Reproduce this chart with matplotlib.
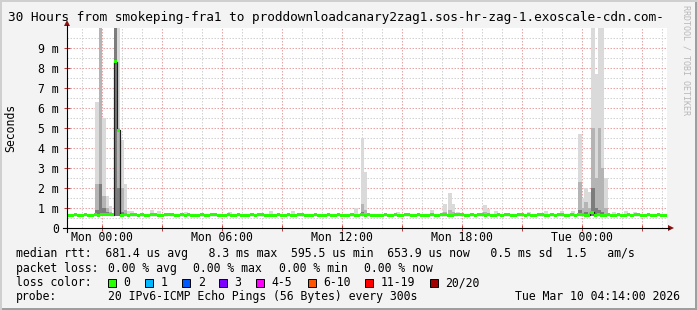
import numpy as np
import matplotlib
matplotlib.use('Agg')
import matplotlib.pyplot as plt
from matplotlib.patches import Rectangle, Polygon
from matplotlib.lines import Line2D

# time axis in hours relative to Mon 00:00, one median sample every 10 minutes
start_hour = -1.77
end_hour = 28.23
step_hours = 1 / 6

median_ms = [
    0.64, 0.63, 0.66, 0.65, 0.63, 0.66, 0.64, 0.65, 0.66, 0.64, 0.68, 0.70, 0.69, 0.66, 8.30, 4.90, 0.64, 0.66,
    0.65, 0.67, 0.66, 0.64, 0.66, 0.65, 0.63, 0.66, 0.67, 0.65, 0.64, 0.66, 0.68, 0.66, 0.64, 0.65, 0.66, 0.64,
    0.66, 0.65, 0.63, 0.65, 0.66, 0.64, 0.65, 0.67, 0.66, 0.64, 0.63, 0.65, 0.66, 0.64, 0.65, 0.66, 0.65, 0.63,
    0.64, 0.66, 0.65, 0.67, 0.66, 0.64, 0.65, 0.63, 0.64, 0.66, 0.65, 0.64, 0.66, 0.65, 0.64, 0.66, 0.67, 0.65,
    0.64, 0.65, 0.66, 0.64, 0.63, 0.65, 0.66, 0.65, 0.64, 0.66, 0.65, 0.63, 0.64, 0.66, 0.65, 0.64, 0.66, 0.65,
    0.66, 0.64, 0.65, 0.63, 0.64, 0.66, 0.65, 0.64, 0.66, 0.65, 0.64, 0.67, 0.66, 0.65, 0.64, 0.66, 0.65, 0.64,
    0.65, 0.66, 0.64, 0.65, 0.67, 0.66, 0.64, 0.65, 0.66, 0.68, 0.66, 0.65, 0.64, 0.66, 0.65, 0.67, 0.66, 0.64,
    0.66, 0.65, 0.64, 0.66, 0.65, 0.67, 0.66, 0.65, 0.64, 0.66, 0.67, 0.65, 0.66, 0.64, 0.65, 0.67, 0.66, 0.65,
    0.64, 0.66, 0.65, 0.67, 0.66, 0.65, 0.64, 0.66, 0.65, 0.68, 0.66, 0.65, 0.64, 0.78, 0.65, 0.66, 0.64, 0.65,
    0.66, 0.65, 0.64, 0.66, 0.65, 0.64, 0.66, 0.65, 0.67, 0.66, 0.64, 0.65, 0.66, 0.65, 0.64, 0.66, 0.65, 0.64,
]

# smoke (spread of the 20 pings) where it rises above the median band
spike_hours = [-0.35, -0.18, 0.00, 0.17, 0.33, 0.57, 0.73, 0.90, 1.05, 1.25, 1.40, 2.40, 2.75, 4.10,
               6.30, 8.35, 9.45, 12.60, 12.93, 13.08, 14.70, 16.40, 17.05, 17.30, 17.45, 17.70, 19.05,
               19.20, 19.60, 21.25, 22.10, 22.90, 23.45, 23.80, 23.97, 24.10, 24.27, 24.45, 24.60, 24.77,
               24.93, 25.10, 25.50, 26.10, 26.55]
spike_max = [6.3, 10.5, 5.5, 1.6, 1.1, 10.5, 10.5, 4.4, 2.2, 0.85, 0.85, 0.9, 0.85, 0.8,
             0.8, 0.85, 0.85, 1.0, 4.5, 2.8, 0.8, 0.9, 1.2, 1.75, 1.2, 0.8, 1.15,
             0.95, 0.85, 0.8, 0.85, 0.85, 0.85, 4.7, 1.5, 2.0, 1.8, 10.5, 7.7, 10.5,
             10.5, 2.5, 0.8, 0.85, 0.8]
spike_mid = [2.2, 10.5, 1.6, 1.0, 0.8, 10.5, 5.0, 2.0, 0.9, 0.7, 0.7, 0.7, 0.7, 0.7,
             0.7, 0.7, 0.7, 0.7, 1.2, 0.9, 0.7, 0.7, 0.8, 0.9, 0.8, 0.7, 0.8,
             0.7, 0.7, 0.7, 0.7, 0.7, 0.7, 2.3, 1.0, 1.3, 1.0, 5.0, 2.5, 5.0,
             3.0, 1.0, 0.7, 0.7, 0.7]
spike_dark = [0.9, 2.2, 1.0, 0.8, 0.7, 10.5, 2.0, 0.8, 0.7, 0.65, 0.65, 0.65, 0.65, 0.65,
              0.65, 0.65, 0.65, 0.65, 0.8, 0.7, 0.65, 0.65, 0.7, 0.7, 0.7, 0.65, 0.7,
              0.65, 0.65, 0.65, 0.65, 0.65, 0.65, 0.9, 0.7, 0.8, 0.7, 2.0, 1.0, 0.9,
              0.8, 0.7, 0.65, 0.65, 0.65]

x_label_hours = [0, 6, 12, 18, 24]
x_labels = ['Mon 00:00', 'Mon 06:00', 'Mon 12:00', 'Mon 18:00', 'Tue 00:00']
y_ticks = [0, 1, 2, 3, 4, 5, 6, 7, 8, 9]
y_labels = ['0', '1 m', '2 m', '3 m', '4 m', '5 m', '6 m', '7 m', '8 m', '9 m']

title = '30 Hours from smokeping-fra1 to proddownloadcanary2zag1.sos-hr-zag-1.exoscale-cdn.com-'
rtt_line = 'median rtt:  681.4 us avg   8.3 ms max  595.5 us min  653.9 us now   0.5 ms sd  1.5   am/s'
loss_values = ['0.00 % avg', '0.00 % max', '0.00 % min', '0.00 % now']
loss_labels = ['0', '1', '2', '3', '4-5', '6-10', '11-19', '20/20']
loss_colors = ['#26ff00', '#00b8ff', '#0059ff', '#7e00ff', '#ff00ff', '#ff5500', '#ff0000', '#a10000']
probe_text = '20 IPv6-ICMP Echo Pings (56 Bytes) every 300s'
stamp_text = 'Tue Mar 10 04:14:00 2026'

W, H = 697, 310
FS = 8.3

plt.rcParams['font.family'] = 'DejaVu Sans Mono'


def fx(x):
    return x / W


def fy(y):
    return 1 - y / H


fig = plt.figure(figsize=(W / 100, H / 100), dpi=100, facecolor='#f3f3f3')
ax = fig.add_axes([fx(67), fy(228), 600 / W, 200 / H])
ax.set_facecolor('white')
ax.set_xlim(start_hour, end_hour)
ax.set_ylim(0, 10)

# grid: grey every hour / 0.5 ms, red every 3 hours / 1 ms
dots = (0, (1.44, 1.44))
for h in np.arange(np.ceil(start_hour), end_hour, 1):
    col = '#e6a6a6' if h % 3 == 0 else '#d2d2d2'
    ax.axvline(h, color=col, lw=0.75, ls=dots, zorder=0)
for v in np.arange(0.5, 10, 0.5):
    col = '#e6a6a6' if v % 1 == 0 else '#d2d2d2'
    ax.axhline(v, color=col, lw=0.75, ls=dots, zorder=0)

# smoke
base = 0.6
ax.bar(spike_hours, np.array(spike_max) - base, bottom=base, width=step_hours,
       align='edge', color='#dadada', lw=0, zorder=1)
ax.bar(spike_hours, np.array(spike_mid) - base, bottom=base, width=step_hours,
       align='edge', color='#b4b4b4', lw=0, zorder=1)
ax.bar(spike_hours, np.array(spike_dark) - base, bottom=base, width=step_hours,
       align='edge', color='#7c7c7c', lw=0, zorder=1)

# median: thin dark step line plus a loss-coloured band
med = np.array(median_ms)
t = start_hour + np.arange(len(med)) * step_hours
ax.step(np.append(t, end_hour), np.append(med, med[-1]), where='post',
        color='#202020', lw=0.9, zorder=2)
ax.bar(t, 0.15, bottom=med - 0.075, width=step_hours, align='edge',
       color=loss_colors[0], lw=0, zorder=3)

# ticks
ax.set_xticks(x_label_hours, x_labels)
ax.set_xticks(np.arange(0, end_hour, 3), minor=True)
ax.set_yticks(y_ticks, y_labels)
ax.tick_params(axis='x', which='major', direction='inout', length=4, width=0.75,
               color='#c04040', pad=0, labelsize=FS)
ax.tick_params(axis='x', which='minor', direction='inout', length=4, width=0.75,
               color='#c04040')
ax.tick_params(axis='y', which='major', direction='inout', length=4, width=0.75,
               color='#c04040', pad=3.8, labelsize=FS)
for s in ['top', 'right', 'left', 'bottom']:
    ax.spines[s].set_visible(False)

# axes lines with arrow heads
fig.add_artist(Line2D([fx(63), fx(669)], [fy(228), fy(228)], color='black', lw=0.8))
fig.add_artist(Line2D([fx(67), fx(67)], [fy(232), fy(25)], color='black', lw=0.8))
fig.add_artist(Polygon([[fx(668), fy(225)], [fx(674), fy(228)], [fx(668), fy(231)]],
                       closed=True, color='#8b1010', lw=0))
fig.add_artist(Polygon([[fx(64), fy(26)], [fx(67), fy(20)], [fx(70), fy(26)]],
                       closed=True, color='#8b1010', lw=0))

# frame shading
fig.add_artist(Rectangle((0, 0), 1, 2 / H, transform=fig.transFigure, color='#9e9e9e', lw=0))
fig.add_artist(Rectangle((1 - 2 / W, 0), 2 / W, 1, transform=fig.transFigure, color='#9e9e9e', lw=0))
fig.add_artist(Rectangle((0, 1 - 2 / H), 1, 2 / H, transform=fig.transFigure, color='#cfcfcf', lw=0))
fig.add_artist(Rectangle((0, 0), 2 / W, 1, transform=fig.transFigure, color='#cfcfcf', lw=0))

# texts
fig.text(fx(8), fy(18), title, fontsize=9.2, va='center', ha='left')
fig.text(fx(11), fy(128), 'Seconds', fontsize=FS, rotation=90, va='center', ha='center')
fig.text(fx(686), fy(5), 'RRDTOOL / TOBI OETIKER', fontsize=6, rotation=270,
         va='top', ha='center', color='#b8b8b8')

fig.text(fx(15.6), fy(254), rtt_line, fontsize=FS, va='center')
fig.text(fx(15.6), fy(268.5), 'packet loss:', fontsize=FS, va='center')
for xp, s in zip([107.6, 193.3, 279, 364.4], loss_values):
    fig.text(fx(xp), fy(268.5), s, fontsize=FS, va='center')
fig.text(fx(15.6), fy(282.5), 'loss color:', fontsize=FS, va='center')
for xp, lab, col in zip([108, 145.3, 182.2, 219, 256.4, 307.6, 365.3, 430], loss_labels, loss_colors):
    fig.add_artist(Rectangle((fx(xp), fy(287)), 8 / W, 8 / H, transform=fig.transFigure,
                             facecolor=col, edgecolor='black', lw=0.7))
    fig.text(fx(xp + 15.5), fy(282.5), lab, fontsize=FS, va='center')
fig.text(fx(15.6), fy(296.5), 'probe:', fontsize=FS, va='center')
fig.text(fx(107.6), fy(296.5), probe_text, fontsize=FS, va='center')
fig.text(fx(680), fy(296.5), stamp_text, fontsize=FS, va='center', ha='right')

fig.savefig('out.png', dpi=100, facecolor=fig.get_facecolor())
